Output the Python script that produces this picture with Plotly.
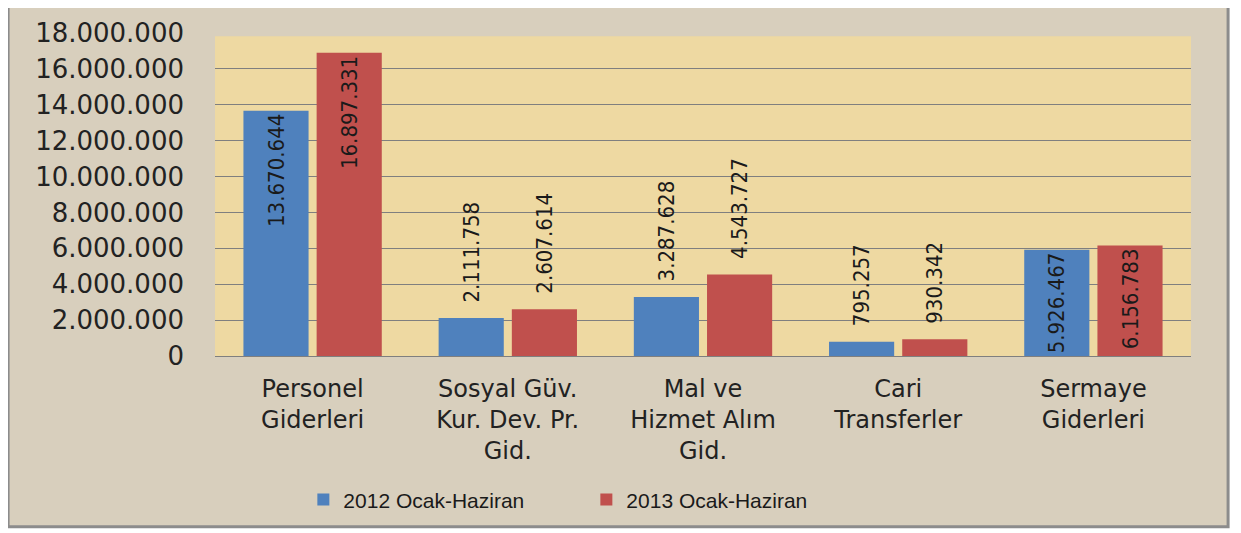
import plotly.graph_objects as go

categories = ["Personel<br>Giderleri", "Sosyal Güv.<br>Kur. Dev. Pr.<br>Gid.",
              "Mal ve<br>Hizmet Alım<br>Gid.", "Cari<br>Transferler", "Sermaye<br>Giderleri"]
y2012 = [13670644, 2111758, 3287628, 795257, 5926467]
y2013 = [16897331, 2607614, 4543727, 930342, 6156783]
series_names = ["2012 Ocak-Haziran", "2013 Ocak-Haziran"]

label_pos = ["inside", "outside", "outside", "outside", "inside"]
label_tpl = ["%{y:,d}" if p == "inside" else "\u00a0\u00a0%{y:,d}" for p in label_pos]
label_font = dict(family="DejaVu Sans Condensed, Liberation Sans Narrow, Arial Narrow, sans-serif",
                  size=22, color="#1a1a1a")

fig = go.Figure()
for name, vals, col in [(series_names[0], y2012, "#4F81BD"), (series_names[1], y2013, "#C0504D")]:
    fig.add_trace(go.Bar(
        x=categories, y=vals, name=name, marker_color=col, marker_line_width=0,
        texttemplate=label_tpl, textposition=label_pos, textangle=-90,
        insidetextanchor="end", textfont=label_font, cliponaxis=False,
        constraintext="none",
    ))

# page body has an 8px margin, so the figure is offset by 8px
fig.update_layout(
    width=1241, height=533,
    margin=dict(l=207, r=58, t=25, b=185),
    separators=",.",
    paper_bgcolor="white",
    plot_bgcolor="#EED9A2",
    barmode="group", bargap=0.25, bargroupgap=0.11,
    font=dict(family="DejaVu Sans, Verdana, sans-serif", color="#222222"),
    legend=dict(orientation="h", xref="container", yref="container",
                x=0.238, xanchor="left", y=0.077, yanchor="middle",
                font=dict(family="Liberation Sans, Arial, sans-serif", size=21, color="#1a1a1a"),
                bgcolor="rgba(0,0,0,0)", itemwidth=30, entrywidth=238, tracegroupgap=0),
    shapes=[
        dict(type="rect", xref="paper", yref="paper", x0=-0.212, x1=1.038, y0=-0.529, y1=1.087,
             fillcolor="#D8CFBD", line=dict(color="#8c8c8c", width=3), layer="below"),
        dict(type="rect", xref="paper", yref="paper", x0=0, x1=1, y0=0, y1=0.99,
             fillcolor="#EED9A2", line=dict(width=0), layer="below"),
    ],
)
fig.update_yaxes(range=[0, 18000000], dtick=2000000, tickformat=",d", automargin=False,
                 showgrid=True, gridcolor="#7f7f7f", gridwidth=1,
                 zeroline=True, zerolinecolor="#7f7f7f", zerolinewidth=1,
                 ticks="", ticklabelstandoff=30,
                 tickfont=dict(size=26, color="#222222"))
fig.update_xaxes(showline=False, ticks="", ticklabelstandoff=16, automargin=False,
                 tickfont=dict(size=24, color="#222222"))

fig.write_html("out.html")
